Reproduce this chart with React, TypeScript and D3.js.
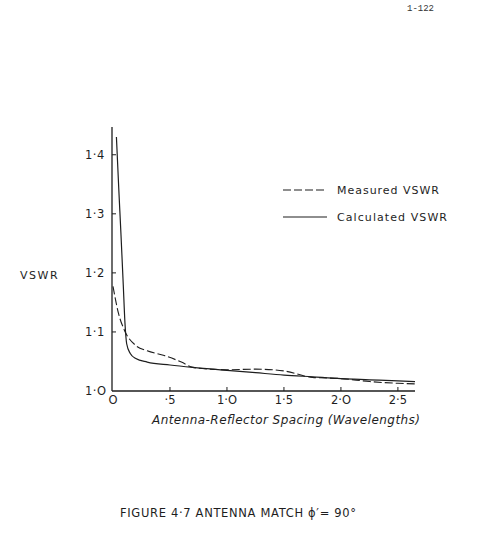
import React from "react";
import * as d3 from "d3";

const xTicks = [0, 0.5, 1.0, 1.5, 2.0, 2.5];
const xTickLabels = ["O", "·5", "1·O", "1·5", "2·O", "2·5"];
const yTicks = [1.0, 1.1, 1.2, 1.3, 1.4];
const yTickLabels = ["1·O", "1·1", "1·2", "1·3", "1·4"];

const calcX = [0.03, 0.05, 0.07, 0.09, 0.105, 0.12, 0.15, 0.2, 0.3, 0.5, 0.7, 1.0, 1.25, 1.5, 1.75, 2.0, 2.25, 2.5, 2.65];
const calcY = [1.43, 1.345, 1.265, 1.18, 1.115, 1.08, 1.064, 1.055, 1.049, 1.044, 1.04, 1.035, 1.031, 1.027, 1.024, 1.021, 1.019, 1.017, 1.016];

const measX = [0, 0.05, 0.1, 0.2, 0.3, 0.45, 0.6, 0.7, 0.85, 1.0, 1.25, 1.5, 1.75, 2.0, 2.25, 2.5, 2.65];
const measY = [1.177, 1.13, 1.103, 1.077, 1.068, 1.06, 1.049, 1.04, 1.037, 1.036, 1.037, 1.034, 1.023, 1.021, 1.016, 1.013, 1.012];

const legendItems = ["Measured  VSWR", "Calculated  VSWR"];

export default function App() {
  const W = 488, H = 544;
  const x = d3.scaleLinear().domain([0, 2.65]).range([113, 415]);
  const y = d3.scaleLinear().domain([1.0, 1.447]).range([391, 127]);
  const line = d3
    .line<[number, number]>()
    .x((d) => x(d[0]))
    .y((d) => y(d[1]))
    .curve(d3.curveMonotoneX);
  const calc = calcX.map((v, i) => [v, calcY[i]] as [number, number]);
  const meas = measX.map((v, i) => [v, measY[i]] as [number, number]);
  const ink = "#1e1e1e";
  const font = "'DejaVu Sans', sans-serif";
  return (
    <svg
      width={W}
      height={H}
      style={{ position: "absolute", left: 0, top: 0, background: "#fff" }}
      fontFamily={font}
    >
      <rect width={W} height={H} fill="#fff" />
      <text x={407} y={11} fontSize={9} fontFamily="'Liberation Mono', monospace" fill="#333">1-122</text>
      {/* axes */}
      <line x1={112} x2={112} y1={127} y2={391} stroke={ink} strokeWidth={1.3} />
      <line x1={112} x2={415} y1={391} y2={391} stroke={ink} strokeWidth={1.3} />
      {yTicks.map((t, i) => (
        <g key={"y" + i}>
          {i > 0 && <line x1={112} x2={116} y1={y(t)} y2={y(t)} stroke={ink} strokeWidth={1} />}
          <text x={85} y={y(t) + 4} fontSize={11.5} fill={ink} letterSpacing={0.5}>{yTickLabels[i]}</text>
        </g>
      ))}
      {xTicks.map((t, i) => (
        <g key={"x" + i}>
          {i > 0 && <line x1={x(t)} x2={x(t)} y1={391} y2={387} stroke={ink} strokeWidth={1} />}
          <text x={x(t)} y={404} fontSize={11.5} fill={ink} textAnchor="middle">{xTickLabels[i]}</text>
        </g>
      ))}
      <text x={20} y={279} fontSize={11} fill={ink} letterSpacing={1.5}>VSWR</text>
      <text x={152} y={424} fontSize={12} fontStyle="italic" fill={ink} textLength={268} lengthAdjust="spacing">
        Antenna-Reflector  Spacing  (Wavelengths)
      </text>
      {/* curves */}
      <path d={line(calc) || ""} fill="none" stroke={ink} strokeWidth={1.2} />
      <path d={line(meas) || ""} fill="none" stroke={ink} strokeWidth={1.1} strokeDasharray="8,3" />
      {/* legend */}
      <line x1={283} x2={327} y1={190} y2={190} stroke={ink} strokeWidth={1.1} strokeDasharray="8,3" />
      <text x={337} y={194} fontSize={11} fill={ink} textLength={102} lengthAdjust="spacing">{legendItems[0]}</text>
      <line x1={283} x2={327} y1={217} y2={217} stroke={ink} strokeWidth={1.1} />
      <text x={337} y={221} fontSize={11} fill={ink} textLength={110} lengthAdjust="spacing">{legendItems[1]}</text>
      <text x={120} y={517} fontSize={11.5} fill={ink} textLength={236} lengthAdjust="spacing">
        FIGURE 4·7 ANTENNA MATCH ϕ′= 90°
      </text>
    </svg>
  );
}
